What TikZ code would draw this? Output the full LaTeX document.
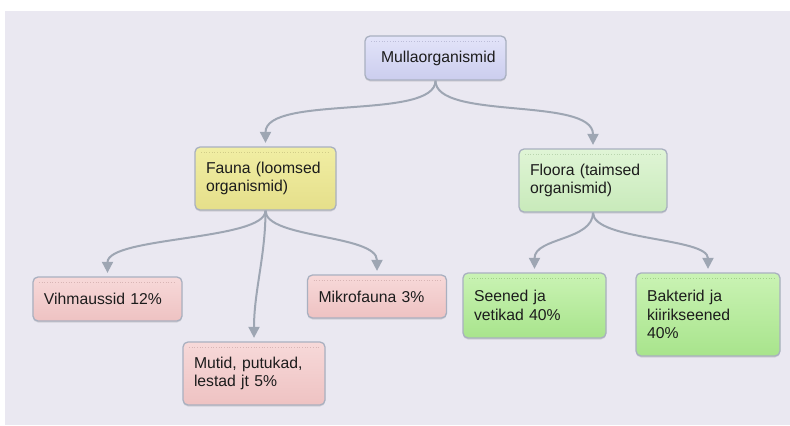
\documentclass[tikz,border=0pt]{standalone}
\usepackage{fontspec}
\setmainfont{Liberation Sans}
\usetikzlibrary{shadows,arrows.meta}
\definecolor{bgc}{HTML}{EAE8F1}
\definecolor{boxborder}{HTML}{A9B0C0}
\definecolor{linkc}{HTML}{9EA6B3}
\definecolor{textc}{HTML}{1C1C1C}
\definecolor{blueT}{HTML}{E3E4F9}
\definecolor{blueB}{HTML}{CBCDEE}
\definecolor{yelT}{HTML}{F1EEA4}
\definecolor{yelB}{HTML}{E5DF8A}
\definecolor{lgT}{HTML}{E0F5D6}
\definecolor{lgB}{HTML}{C8EABA}
\definecolor{pinkT}{HTML}{F7D9D9}
\definecolor{pinkB}{HTML}{EEC2C2}
\definecolor{grT}{HTML}{CAF3B4}
\definecolor{grB}{HTML}{A8E48C}
\tikzset{
  box/.style 2 args={draw=boxborder, line width=1.3bp, rounded corners=5bp,
    top color=#1, bottom color=#2, inner xsep=11bp, inner ysep=0bp,
    align=left, text=textc, font=\fontsize{15.8}{18.5}\selectfont,
    drop shadow={shadow xshift=0bp, shadow yshift=-1.5bp, opacity=0.25, fill=black!45},
    path picture={\draw[#2!80!gray, line width=0.7bp, dotted]
      ([xshift=6bp,yshift=-5bp]path picture bounding box.north west) --
      ([xshift=-6bp,yshift=-5bp]path picture bounding box.north east);}},
  link/.style={draw=linkc, line width=2bp, shorten >=3.5bp,
    -{Triangle[length=11bp,width=11bp]}}
}
\begin{document}
\begin{tikzpicture}[x=1bp,y=-1bp]
\useasboundingbox (0,0) rectangle (790,425);
\fill[white] (0,0) rectangle (790,425);
\fill[bgc] (5,11) rectangle (790,425);

\node[box={blueT}{blueB}, minimum width=141bp, text width=127bp, inner xsep=7bp, minimum height=44bp] (m) at (435.5,58) {\hspace*{9bp}\mbox{Mullaorganismid}};
\node[box={yelT}{yelB}, minimum width=141bp, text width=119bp, minimum height=63bp] (fa) at (265.5,178.5) {Fauna (loomsed\\organismid)};
\node[box={lgT}{lgB}, minimum width=148bp, text width=126bp, minimum height=63bp] (fl) at (593,180.5) {Floora (taimsed\\organismid)};
\node[box={pinkT}{pinkB}, minimum width=149bp, text width=127bp, minimum height=44bp] (v) at (107.5,299) {Vihmaussid 12\%};
\node[box={pinkT}{pinkB}, minimum width=139bp, text width=117bp, minimum height=43bp] (mk) at (377,296.5) {Mikrofauna 3\%};
\node[box={pinkT}{pinkB}, minimum width=142bp, text width=120bp, minimum height=63bp] (mu) at (254,373.5) {Mutid, putukad,\\lestad jt 5\%};
\node[box={grT}{grB}, minimum width=143bp, text width=121bp, minimum height=65bp] (se) at (534.5,305.5) {Seened ja\\vetikad 40\%};
\node[box={grT}{grB}, minimum width=144bp, text width=122bp, minimum height=83bp] (ba) at (708,314.5) {Bakterid ja\\kiirikseened\\40\%};

\draw[link] (m.south) .. controls +(0,40) and +(0,-52) .. (fa.north);
\draw[link] (m.south) .. controls +(0,40) and +(0,-52) .. (fl.north);
\draw[link] (fa.south) .. controls +(0,30) and +(0,-40) .. (v.north);
\draw[link] (fa.south) .. controls +(0,28) and +(0,-40) .. (mk.north);
\draw[link] (fa.south) .. controls +(0,45) and +(0,-50) .. (mu.north);
\draw[link] (fl.south) .. controls +(0,28) and +(0,-35) .. (se.north);
\draw[link] (fl.south) .. controls +(0,28) and +(0,-35) .. (ba.north);
\end{tikzpicture}
\end{document}
